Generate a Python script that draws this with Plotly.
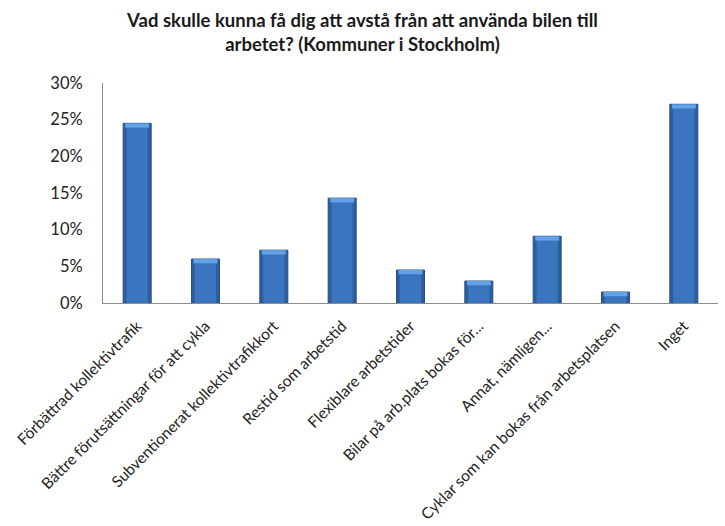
import plotly.graph_objects as go

# Survey answers and share of respondents (percent)
categories = [
    "Förbättrad kollektivtrafik",
    "Bättre förutsättningar för att cykla",
    "Subventionerat kollektivtrafikkort",
    "Restid som arbetstid",
    "Flexiblare arbetstider",
    "Bilar på arb.plats bokas för...",
    "Annat, nämligen...",
    "Cyklar som kan bokas från arbetsplatsen",
    "Inget",
]
shares = [24.5, 6.0, 7.2, 14.3, 4.5, 3.0, 9.1, 1.5, 27.1]
y_ticks = [0, 5, 10, 15, 20, 25, 30]
y_tick_labels = [f"{t}%" for t in y_ticks]

title_text = ("Vad skulle kunna få dig att avstå från att använda bilen till<br>"
              "arbetet? (Kommuner i Stockholm)")

cap = 0.6  # height of the light bevel at the top of each bar (in %)

fig = go.Figure()
# bar body with dark rim
fig.add_trace(go.Bar(
    x=categories, y=shares, width=0.41,
    marker=dict(color="#2e5d9c", line=dict(color="#264f86", width=1)),
    hoverinfo="skip",
))
# lighter centre band for the rounded look
fig.add_trace(go.Bar(
    x=categories, y=[v - cap for v in shares], width=0.31,
    marker=dict(color="#3b74bf", line=dict(width=0)),
    hoverinfo="skip",
))
# bevel highlight on top
fig.add_trace(go.Bar(
    x=categories, y=[cap] * len(shares), base=[v - cap for v in shares],
    width=0.35,
    marker=dict(color="#62a2e6", line=dict(width=0)),
    hoverinfo="skip",
))

fig.update_layout(
    width=725, height=526,
    barmode="overlay",
    showlegend=False,
    paper_bgcolor="white", plot_bgcolor="white",
    margin=dict(l=103, r=7, t=83, b=223, autoexpand=False),
    title=dict(
        text=title_text, x=0.5, xanchor="center",
        yref="container", y=0.948, yanchor="middle",
        font=dict(family="Lato", size=18.5, color="#1a1a1a", weight="bold"),
    ),
    font=dict(family="Lato", color="#222222"),
)
fig.update_xaxes(
    tickangle=-45, tickfont=dict(family="Lato", size=15.5, color="#222222"),
    showline=True, linecolor="#8c8c8c", linewidth=1,
    ticks="", showgrid=False, ticklabelstandoff=7, automargin=False,
)
fig.update_yaxes(
    range=[0, 30], tickvals=y_ticks, ticktext=y_tick_labels,
    tickfont=dict(family="Lato", size=16.5, color="#222222"),
    showline=True, linecolor="#8c8c8c", linewidth=1,
    ticks="", showgrid=False, zeroline=False, ticklabelstandoff=16,
    automargin=False,
)

fig.write_html("out.html")
